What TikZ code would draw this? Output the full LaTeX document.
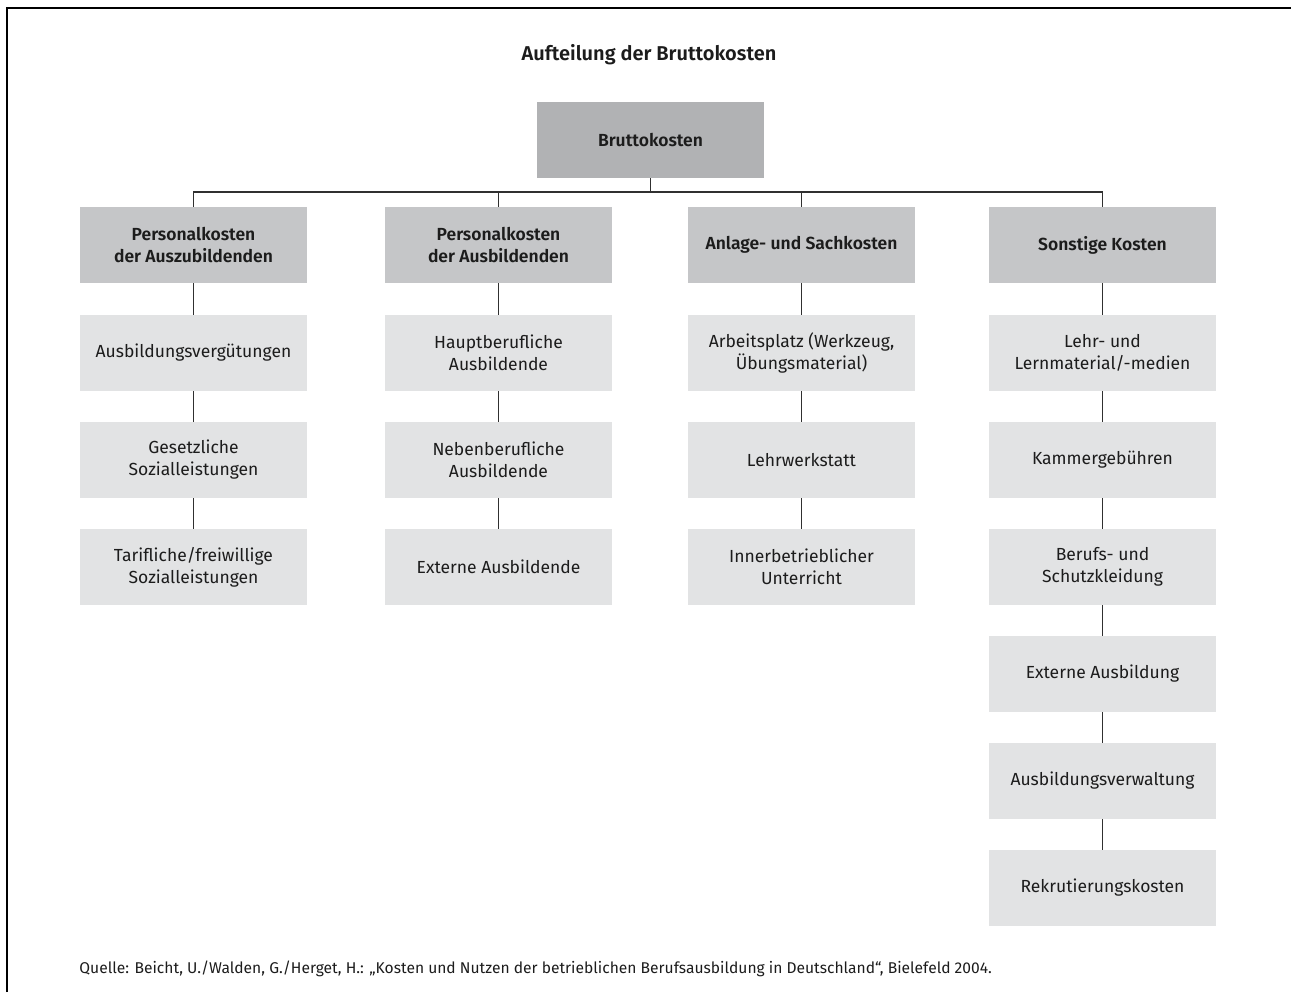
\documentclass[tikz,border=0pt]{standalone}
\usepackage{fontspec}
\setmainfont{Fira Sans}[BoldFont={Fira Sans SemiBold}]
\definecolor{txt}{HTML}{1C1C1C}
\definecolor{lin}{HTML}{303030}
\definecolor{topfill}{HTML}{B1B2B4}
\definecolor{headfill}{HTML}{C5C6C8}
\definecolor{itemfill}{HTML}{E2E3E4}
\tikzset{
  box/.style={minimum width=113.5pt, minimum height=38pt, inner sep=2pt, align=center, text=txt, font=\fontsize{8.75}{11}\selectfont},
  topbox/.style={box, fill=topfill, font=\fontsize{8.75}{11}\selectfont\bfseries},
  headbox/.style={box, fill=headfill, font=\fontsize{8.75}{11}\selectfont\bfseries},
  itembox/.style={box, fill=itemfill},
  conn/.style={draw=lin, line width=0.75pt},
}
\begin{document}
\begin{tikzpicture}[x=0.5pt,y=-0.5pt]
\useasboundingbox (0,0) rectangle (1291,992);
\draw[line width=1pt, black] (6.5,992) -- (6.5,8.3) -- (1291,8.3);
\node[text=txt, font=\fontsize{10}{12}\selectfont\bfseries, anchor=base] (title) at (649,60) {Aufteilung der Bruttokosten};
\node[topbox] (b) at (650.5,140) {Bruttokosten};
\coordinate (bus) at (650.5,192);
% column heads
\node[headbox] (h1) at (193.5,245) {Personalkosten\\der Auszubildenden};
\node[headbox] (h2) at (498.5,245) {Personalkosten\\der Ausbildenden};
\node[headbox] (h3) at (801.5,245) {Anlage- und Sachkosten};
\node[headbox] (h4) at (1102.5,245) {Sonstige Kosten};
% column 1
\node[itembox] (a1) at (193.5,353) {Ausbildungsvergütungen};
\node[itembox] (a2) at (193.5,460) {Gesetzliche\\Sozialleistungen};
\node[itembox] (a3) at (193.5,567) {Tarifliche/freiwillige\\Sozialleistungen};
% column 2
\node[itembox] (b1) at (498.5,353) {Hauptberufliche\\Ausbildende};
\node[itembox] (b2) at (498.5,460) {Nebenberufliche\\Ausbildende};
\node[itembox] (b3) at (498.5,567) {Externe Ausbildende};
% column 3
\node[itembox] (c1) at (801.5,353) {Arbeitsplatz (Werkzeug,\\Übungsmaterial)};
\node[itembox] (c2) at (801.5,460) {Lehrwerkstatt};
\node[itembox] (c3) at (801.5,567) {Innerbetrieblicher\\Unterricht};
% column 4
\node[itembox] (d1) at (1102.5,353) {Lehr- und\\Lernmaterial/-medien};
\node[itembox] (d2) at (1102.5,460) {Kammergebühren};
\node[itembox] (d3) at (1102.5,567) {Berufs- und\\Schutzkleidung};
\node[itembox] (d4) at (1102.5,674) {Externe Ausbildung};
\node[itembox] (d5) at (1102.5,781) {Ausbildungsverwaltung};
\node[itembox] (d6) at (1102.5,888) {Rekrutierungskosten};
% connectors
\draw[conn] (b.south) -- (bus);
\draw[conn] (h1.north) |- (bus);
\draw[conn] (h4.north) |- (bus);
\draw[conn] (h2.north) -- (h2.north |- bus);
\draw[conn] (h3.north) -- (h3.north |- bus);
\draw[conn] (h1) -- (a1); \draw[conn] (a1) -- (a2); \draw[conn] (a2) -- (a3);
\draw[conn] (h2) -- (b1); \draw[conn] (b1) -- (b2); \draw[conn] (b2) -- (b3);
\draw[conn] (h3) -- (c1); \draw[conn] (c1) -- (c2); \draw[conn] (c2) -- (c3);
\draw[conn] (h4) -- (d1); \draw[conn] (d1) -- (d2); \draw[conn] (d2) -- (d3);
\draw[conn] (d3) -- (d4); \draw[conn] (d4) -- (d5); \draw[conn] (d5) -- (d6);
% source
\node[text=txt, font=\fontsize{7.8}{9}\selectfont, anchor=base west, inner sep=0pt] (src) at (79,973) {Quelle: Beicht, U./Walden, G./Herget, H.: „Kosten und Nutzen der betrieblichen Berufsausbildung in Deutschland“, Bielefeld 2004.};
\end{tikzpicture}
\end{document}
